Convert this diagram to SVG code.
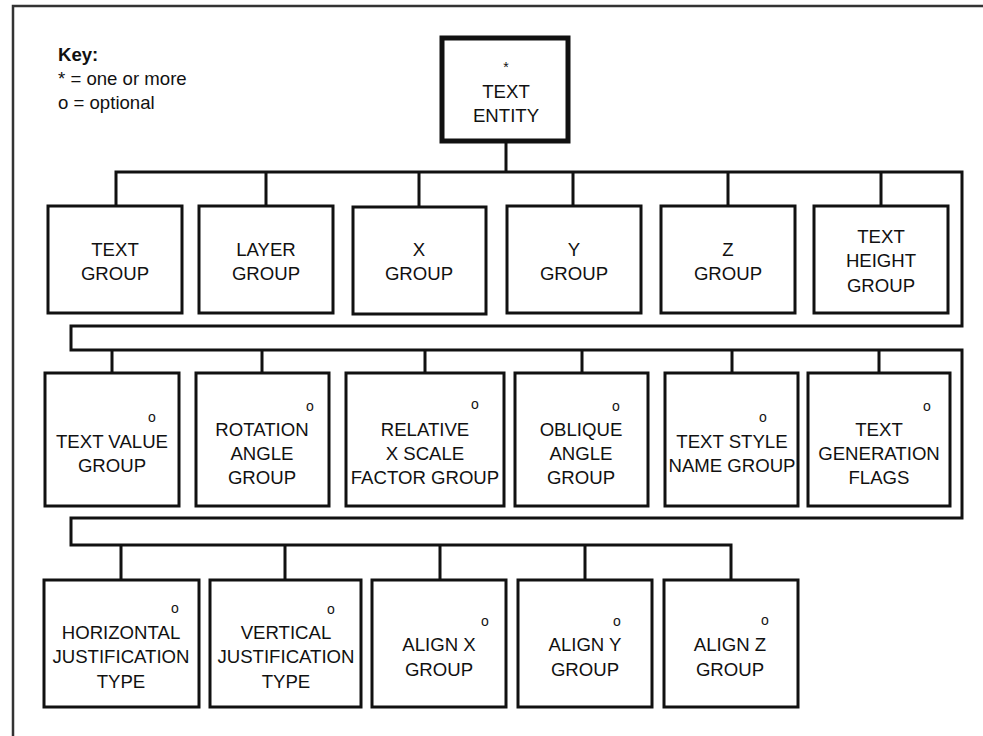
<svg xmlns="http://www.w3.org/2000/svg" width="983" height="736" viewBox="0 0 983 736">
<style>
.box{fill:#fff;stroke:#111;stroke-width:3}
.root{fill:#fff;stroke:#111;stroke-width:5}
.t{font-family:"Liberation Sans",Arial,sans-serif;font-size:18.6px;fill:#111;text-anchor:middle}
.s{font-family:"Liberation Sans",Arial,sans-serif;font-size:14px;fill:#111;text-anchor:middle}
.k{font-family:"Liberation Sans",Arial,sans-serif;font-size:18.6px;fill:#111}
.c{fill:none;stroke:#111;stroke-width:3;stroke-linejoin:miter}
</style>
<rect x="0" y="0" width="983" height="736" fill="#fff"/>
<rect x="13" y="6" width="1000" height="800" fill="none" stroke="#333" stroke-width="2.5"/>
<g id="key">
<text class="k" x="58" y="61" font-weight="bold">Key:</text>
<text class="k" x="58" y="85">* = one or more</text>
<text class="k" x="58" y="109">o = optional</text>
</g>
<g id="connectors">
<path class="c" d="M506,142 V172"/>
<path class="c" d="M116,206 V172 H962 V326 H71 V350 H962 V518 H71 V545 H731 V580"/>
<path class="c" d="M266,172 V206 M419,172 V206 M573,172 V206 M728,172 V206 M881,172 V206"/>
<path class="c" d="M112,350 V373 M262,350 V373 M425,350 V373 M582,350 V373 M732,350 V373 M879,350 V373"/>
<path class="c" d="M121,545 V580 M285,545 V580 M440,545 V580 M585,545 V580"/>
</g>
<g id="text-entity">
<rect class="root" x="442" y="38" width="126" height="103"/>
<text class="s" x="506" y="72" font-size="15px">*</text>
<text class="t" x="506" y="98">TEXT</text>
<text class="t" x="506" y="122">ENTITY</text>
</g>
<g id="text-group">
<rect class="box" x="48" y="206" width="134" height="107"/>
<text class="t" x="115" y="256">TEXT</text>
<text class="t" x="115" y="280">GROUP</text>
</g>
<g id="layer-group">
<rect class="box" x="199" y="206" width="134" height="107"/>
<text class="t" x="266" y="256">LAYER</text>
<text class="t" x="266" y="280">GROUP</text>
</g>
<g id="x-group">
<rect class="box" x="353" y="207" width="133" height="107"/>
<text class="t" x="419" y="256">X</text>
<text class="t" x="419" y="280">GROUP</text>
</g>
<g id="y-group">
<rect class="box" x="507" y="206" width="134" height="107"/>
<text class="t" x="574" y="256">Y</text>
<text class="t" x="574" y="280">GROUP</text>
</g>
<g id="z-group">
<rect class="box" x="661" y="206" width="134" height="107"/>
<text class="t" x="728" y="256">Z</text>
<text class="t" x="728" y="280">GROUP</text>
</g>
<g id="text-height-group">
<rect class="box" x="814" y="206" width="134" height="107"/>
<text class="t" x="881" y="243">TEXT</text>
<text class="t" x="881" y="267">HEIGHT</text>
<text class="t" x="881" y="292">GROUP</text>
</g>
<g id="text-value-group">
<rect class="box" x="45" y="373" width="134" height="133"/>
<text class="s" x="152" y="422">o</text>
<text class="t" x="112" y="448">TEXT VALUE</text>
<text class="t" x="112" y="472">GROUP</text>
</g>
<g id="rotation-angle-group">
<rect class="box" x="196" y="373" width="133" height="133"/>
<text class="s" x="310" y="411">o</text>
<text class="t" x="262" y="436">ROTATION</text>
<text class="t" x="262" y="460">ANGLE</text>
<text class="t" x="262" y="484">GROUP</text>
</g>
<g id="relative-x-scale-factor-group">
<rect class="box" x="346" y="373" width="158" height="133"/>
<text class="s" x="475" y="409">o</text>
<text class="t" x="425" y="436">RELATIVE</text>
<text class="t" x="425" y="460">X SCALE</text>
<text class="t" x="425" y="484">FACTOR GROUP</text>
</g>
<g id="oblique-angle-group">
<rect class="box" x="515" y="373" width="133" height="133"/>
<text class="s" x="616" y="411">o</text>
<text class="t" x="581" y="436">OBLIQUE</text>
<text class="t" x="581" y="460">ANGLE</text>
<text class="t" x="581" y="484">GROUP</text>
</g>
<g id="text-style-name-group">
<rect class="box" x="665" y="373" width="133" height="133"/>
<text class="s" x="763" y="422">o</text>
<text class="t" x="732" y="448">TEXT STYLE</text>
<text class="t" x="732" y="472">NAME GROUP</text>
</g>
<g id="text-generation-flags">
<rect class="box" x="808" y="373" width="142" height="133"/>
<text class="s" x="927" y="411">o</text>
<text class="t" x="879" y="436">TEXT</text>
<text class="t" x="879" y="460">GENERATION</text>
<text class="t" x="879" y="484">FLAGS</text>
</g>
<g id="horizontal-justification-type">
<rect class="box" x="44" y="580" width="155" height="127"/>
<text class="s" x="175" y="613">o</text>
<text class="t" x="121" y="639">HORIZONTAL</text>
<text class="t" x="121" y="663">JUSTIFICATION</text>
<text class="t" x="121" y="688">TYPE</text>
</g>
<g id="vertical-justification-type">
<rect class="box" x="210" y="580" width="151" height="127"/>
<text class="s" x="331" y="614">o</text>
<text class="t" x="286" y="639">VERTICAL</text>
<text class="t" x="286" y="663">JUSTIFICATION</text>
<text class="t" x="286" y="688">TYPE</text>
</g>
<g id="align-x-group">
<rect class="box" x="372" y="580" width="134" height="127"/>
<text class="s" x="485" y="626">o</text>
<text class="t" x="439" y="651">ALIGN X</text>
<text class="t" x="439" y="676">GROUP</text>
</g>
<g id="align-y-group">
<rect class="box" x="518" y="580" width="134" height="127"/>
<text class="s" x="617" y="626">o</text>
<text class="t" x="585" y="651">ALIGN Y</text>
<text class="t" x="585" y="676">GROUP</text>
</g>
<g id="align-z-group">
<rect class="box" x="664" y="580" width="134" height="127"/>
<text class="s" x="765" y="625">o</text>
<text class="t" x="730" y="651">ALIGN Z</text>
<text class="t" x="730" y="676">GROUP</text>
</g>
</svg>
